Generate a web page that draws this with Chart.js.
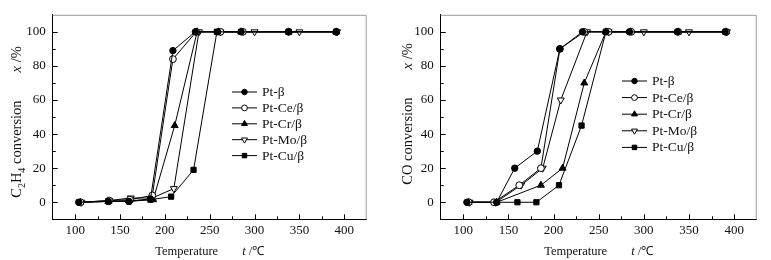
<!DOCTYPE html>
<html>
<head>
<meta charset="utf-8">
<script src="https://cdn.jsdelivr.net/npm/chart.js@4.4.0/dist/chart.umd.min.js"></script>
<style>
  html, body { margin: 0; padding: 0; background: #fff; }
  #wrap { position: relative; width: 771px; height: 260px; overflow: hidden; }
  canvas { position: absolute; top: 0; }
  #c1 { left: 0; }
  #c2 { left: 385px; }
</style>
</head>
<body>
<div id="wrap">
  <canvas id="c1" width="385" height="260"></canvas>
  <canvas id="c2" width="386" height="260"></canvas>
</div>
<script>
const seriesLabels = ["Pt-β", "Pt-Ce/β", "Pt-Cr/β", "Pt-Mo/β", "Pt-Cu/β"];
const xTickValues = [100, 150, 200, 250, 300, 350, 400];
const yTickValues = [0, 20, 40, 60, 80, 100];

// C2H4 conversion: [temperature t/°C, conversion x/%]
const c2h4PtB  = [[104, 0], [137, 0.5], [160, 0.5], [184, 2], [209, 89], [234, 100], [259, 100], [285, 100], [338, 100], [391, 100]];
const c2h4PtCe = [[106, 0], [138, 1], [161, 1.5], [186, 4], [209, 84], [235, 100], [262, 100], [287, 100], [338, 100], [391, 100]];
const c2h4PtCr = [[106, 0], [137, 0.5], [160, 1], [187, 1.5], [211, 45], [236, 100], [260, 100], [285, 100], [338, 100], [391, 100]];
const c2h4PtMo = [[107, 0], [138, 1], [162, 2.5], [186, 2.5], [210, 8], [238, 100], [262, 100], [300, 100], [350, 100], [392, 100]];
const c2h4PtCu = [[105, 0], [137, 0.5], [160, 0.5], [184, 1.5], [207, 3.3], [232, 19], [258, 100], [285, 100], [338, 100], [391, 100]];

// CO conversion
const coPtB  = [[104, 0], [137, 0], [157, 20], [182, 30], [207, 90], [232, 100], [258, 100], [284, 100], [337, 100], [390, 100]];
const coPtCe = [[106, 0], [134, 0], [162, 10], [186, 20], [207, 90], [234, 100], [261, 100], [286, 100], [338, 100], [391, 100]];
const coPtCr = [[106, 0], [137, 0], [186, 10], [210, 20], [234, 70], [258, 100], [285, 100], [338, 100], [391, 100]];
const coPtMo = [[107, 0], [136, 0], [164, 10], [188, 20], [208, 60], [237, 100], [261, 100], [300, 100], [350, 100], [392, 100]];
const coPtCu = [[105, 0], [136, 0], [160, 0], [181, 0], [206, 10], [231, 45], [258, 100], [285, 100], [338, 100], [391, 100]];

const SERIF = '"Liberation Serif", "Times New Roman", serif';
const INK = "#111";

const markerStyles = [
  { pointStyle: "circle", radius: 3.2, rotation: 0, fill: "#000" },
  { pointStyle: "circle", radius: 3.4, rotation: 0, fill: "#fff" },
  { pointStyle: "triangle", radius: 4, rotation: 0, fill: "#000" },
  { pointStyle: "triangle", radius: 4, rotation: 180, fill: "#fff" },
  { pointStyle: "rect", radius: 3.7, rotation: 0, fill: "#000" }
];

function makeDatasets(seriesList) {
  return seriesList.map((pts, i) => {
    const m = markerStyles[i];
    return {
      label: seriesLabels[i],
      data: pts.map(([x, y]) => ({ x, y })),
      showLine: true,
      borderColor: "#000",
      borderWidth: 1,
      pointStyle: m.pointStyle,
      pointRadius: m.radius,
      pointRotation: m.rotation,
      pointBackgroundColor: m.fill,
      pointBorderColor: "#000",
      pointBorderWidth: 1,
      tension: 0
    };
  });
}

// draws text runs (normal / italic / subscript) centred on (cx, cy), optionally rotated
function drawRuns(ctx, runs, cx, cy, angle) {
  ctx.save();
  ctx.translate(cx, cy);
  ctx.rotate(angle);
  ctx.fillStyle = INK;
  ctx.textBaseline = "alphabetic";
  ctx.textAlign = "left";
  let total = 0;
  runs.forEach(r => {
    ctx.font = r.font;
    r.w = r.gap != null ? r.gap : ctx.measureText(r.text).width;
    total += r.w;
  });
  let x = -total / 2;
  runs.forEach(r => {
    if (r.text) {
      ctx.font = r.font;
      ctx.fillText(r.text, x, 5 + (r.dy || 0));
    }
    x += r.w;
  });
  ctx.restore();
}

const decorPlugin = {
  id: "decor",
  afterDraw(chart, args, opts) {
    const { ctx, chartArea: a, scales: { x, y } } = chart;
    ctx.save();

    // light top/right frame
    ctx.strokeStyle = "#9a9a9a";
    ctx.lineWidth = 1;
    ctx.beginPath();
    ctx.moveTo(a.left, a.top + 0.5);
    ctx.lineTo(a.right - 0.5, a.top + 0.5);
    ctx.lineTo(a.right - 0.5, a.bottom);
    ctx.stroke();

    // inward tick marks, major + minor
    ctx.strokeStyle = "#000";
    ctx.beginPath();
    for (let v = 100; v <= 400; v += 25) {
      const px = Math.round(x.getPixelForValue(v)) + 0.5;
      const len = v % 50 === 0 ? 5 : 3;
      ctx.moveTo(px, a.bottom);
      ctx.lineTo(px, a.bottom - len);
    }
    for (let v = 0; v <= 100; v += 10) {
      const py = Math.round(y.getPixelForValue(v)) + 0.5;
      const len = v % 20 === 0 ? 5 : 3;
      ctx.moveTo(a.left, py);
      ctx.lineTo(a.left + len, py);
    }
    ctx.stroke();

    // legend
    ctx.font = "13.5px " + SERIF;
    ctx.textBaseline = "middle";
    ctx.textAlign = "left";
    chart.data.datasets.forEach((ds, i) => {
      const ly = opts.legendTop + i * opts.legendStep;
      const lx = opts.legendLeft;
      ctx.strokeStyle = "#000";
      ctx.lineWidth = 1;
      ctx.beginPath();
      ctx.moveTo(lx, ly + 0.5);
      ctx.lineTo(lx + 25, ly + 0.5);
      ctx.stroke();
      ctx.fillStyle = ds.pointBackgroundColor;
      ctx.strokeStyle = "#000";
      Chart.helpers.drawPoint(ctx, {
        pointStyle: ds.pointStyle,
        radius: ds.pointRadius * 0.85,
        rotation: ds.pointRotation,
        borderWidth: 1
      }, lx + 12.5, ly + 0.5);
      ctx.fillStyle = INK;
      ctx.fillText(ds.label, lx + 30, ly + 1);
    });

    // axis titles
    const nf = "12.5px " + SERIF;
    const itf = "italic 12.5px " + SERIF;
    drawRuns(ctx, [
      { text: "Temperature", font: nf },
      { gap: 24 },
      { text: "t", font: itf },
      { text: " /℃", font: nf }
    ], (a.left + a.right) / 2, 250, 0);

    const yf = "14.5px " + SERIF;
    const yit = "italic 14.5px " + SERIF;
    const sub = "10px " + SERIF;
    const yRuns = opts.yTitle === "C2H4"
      ? [{ text: "C", font: yf }, { text: "2", font: sub, dy: 3.5 }, { text: "H", font: yf },
         { text: "4", font: sub, dy: 3.5 }, { text: " conversion", font: yf }]
      : [{ text: "CO conversion", font: yf }];
    drawRuns(ctx, yRuns.concat([{ gap: 28 }, { text: "x", font: yit }, { text: " /%", font: yf }]),
      opts.yTitleX, opts.yTitleY, -Math.PI / 2);

    ctx.restore();
  }
};

function makeChart(canvasId, seriesList, cfg) {
  const tickFont = { family: SERIF, size: 13 };
  return new Chart(document.getElementById(canvasId).getContext("2d"), {
    type: "scatter",
    data: { datasets: makeDatasets(seriesList) },
    options: {
      responsive: false,
      animation: false,
      layout: { padding: { top: 11, right: cfg.rightPad, left: 0, bottom: 0 } },
      plugins: {
        legend: { display: false },
        tooltip: { enabled: false },
        decor: cfg
      },
      scales: {
        x: {
          type: "linear",
          min: 75,
          max: 425,
          afterBuildTicks: s => { s.ticks = xTickValues.map(v => ({ value: v })); },
          afterFit: s => { s.height = 40.7; },
          ticks: { font: tickFont, color: INK, padding: 3, maxRotation: 0, autoSkip: false },
          grid: { display: false, drawTicks: false },
          border: { display: true, color: "#000", width: 1 }
        },
        y: {
          min: -10,
          max: 110,
          afterBuildTicks: s => { s.ticks = yTickValues.map(v => ({ value: v })); },
          afterFit: s => { s.width = cfg.axisLeft; },
          ticks: { font: tickFont, color: INK, padding: 7, autoSkip: false },
          grid: { display: false, drawTicks: false },
          border: { display: true, color: "#000", width: 1 }
        }
      }
    },
    plugins: [decorPlugin]
  });
}

makeChart("c1", [c2h4PtB, c2h4PtCe, c2h4PtCr, c2h4PtMo, c2h4PtCu], {
  axisLeft: 52.7, rightPad: 18.3, legendLeft: 232, legendTop: 91.5, legendStep: 15.9,
  yTitle: "C2H4", yTitleX: 16, yTitleY: 122
});
makeChart("c2", [coPtB, coPtCe, coPtCr, coPtMo, coPtCu], {
  axisLeft: 55.7, rightPad: 14.3, legendLeft: 237, legendTop: 80.5, legendStep: 16.6,
  yTitle: "CO", yTitleX: 21.5, yTitleY: 114
});
</script>
</body>
</html>
